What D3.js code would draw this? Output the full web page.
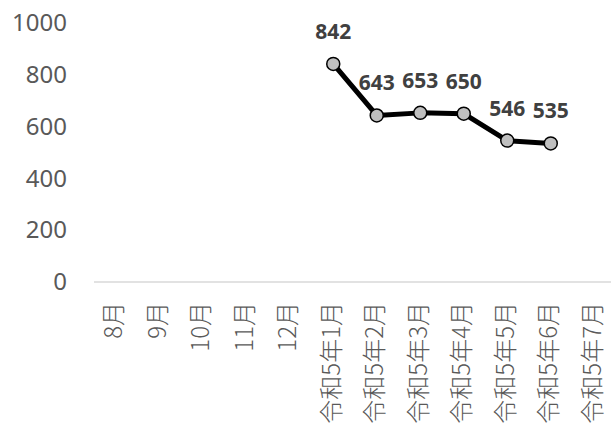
<!DOCTYPE html>
<html>
<head>
<meta charset="utf-8">
<script src="https://cdn.jsdelivr.net/npm/d3@7"></script>
<style>
  body { margin: 0; background: #fff; }
  svg { display: block; }
</style>
</head>
<body>
<div id="chart"></div>
<script>
// chart data
var months = ["8月", "9月", "10月", "11月", "12月",
  "令和5年1月", "令和5年2月", "令和5年3月", "令和5年4月", "令和5年5月", "令和5年6月", "令和5年7月"];
var counts = [null, null, null, null, null, 842, 643, 653, 650, 546, 535, null];
var yTicks = [0, 200, 400, 600, 800, 1000];

var width = 611;
var height = 431;

var svg = d3.select("#chart")
  .append("svg")
  .attr("width", width)
  .attr("height", height);

var x = d3.scaleBand()
  .domain(months)
  .range([94, 616]);

var y = d3.scaleLinear()
  .domain([0, 1000])
  .range([282, 23]);

// baseline
svg.append("line")
  .attr("x1", 94)
  .attr("x2", width)
  .attr("y1", y(0))
  .attr("y2", y(0))
  .style("stroke", "#d9d9d9")
  .style("stroke-width", 1.5);

// y axis labels (no line, no ticks)
var yAxis = d3.axisLeft(y).tickValues(yTicks).tickFormat(d3.format("d")).tickSize(0).tickPadding(0);
var gy = svg.append("g")
  .attr("transform", "translate(67,0)")
  .call(yAxis);
gy.select(".domain").remove();
gy.selectAll("text")
  .style("font-family", "'Noto Sans', sans-serif")
  .style("font-size", "24px")
  .style("fill", "#595959");

// x axis labels, rotated
var xAxis = d3.axisBottom(x).tickSize(0).tickPadding(0);
var gx = svg.append("g")
  .attr("transform", "translate(0," + y(0) + ")")
  .call(xAxis);
gx.select(".domain").remove();
gx.selectAll("text")
  .attr("transform", "rotate(-90)")
  .attr("x", -20)
  .attr("y", -2)
  .attr("dy", "0.35em")
  .style("text-anchor", "end")
  .style("font-family", "'Noto Sans CJK JP', sans-serif")
  .style("font-weight", 300)
  .style("font-size", "24px")
  .style("fill", "#595959");

var pts = months.map(function(m, i) { return {month: m, value: counts[i]}; })
  .filter(function(d) { return d.value != null; });

var line = d3.line()
  .x(function(d) { return x(d.month) + x.bandwidth() / 2; })
  .y(function(d) { return y(d.value); });

svg.append("path")
  .datum(pts)
  .attr("d", line)
  .style("fill", "none")
  .style("stroke", "#000")
  .style("stroke-width", 5)
  .style("stroke-linejoin", "round");

svg.selectAll("circle.pt")
  .data(pts)
  .enter()
  .append("circle")
  .attr("class", "pt")
  .attr("cx", function(d) { return x(d.month) + x.bandwidth() / 2; })
  .attr("cy", function(d) { return y(d.value); })
  .attr("r", 6.5)
  .style("fill", "#bfbfbf")
  .style("stroke", "#000")
  .style("stroke-width", 1.5);

// data labels above each point
svg.selectAll("text.lbl")
  .data(pts)
  .enter()
  .append("text")
  .attr("class", "lbl")
  .attr("x", function(d) { return x(d.month) + x.bandwidth() / 2; })
  .attr("y", function(d) { return y(d.value) - 25; })
  .style("text-anchor", "middle")
  .style("font-family", "'Noto Sans', sans-serif")
  .style("font-weight", "bold")
  .style("font-size", "21px")
  .style("fill", "#404040")
  .text(function(d) { return d.value; });
</script>
</body>
</html>
